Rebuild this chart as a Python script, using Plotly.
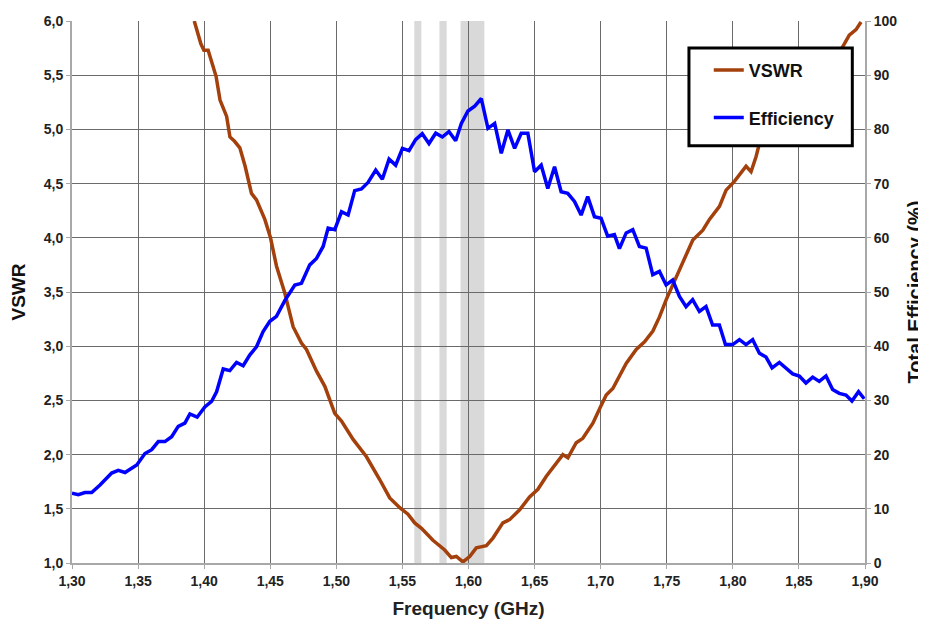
import plotly.graph_objects as go

# ---- data ----
vswr_freq = [1.3925, 1.3975, 1.3998, 1.403, 1.409, 1.412, 1.417, 1.4195, 1.423, 1.427, 1.431,
             1.4358, 1.4396, 1.4434, 1.4459, 1.4502, 1.4547, 1.461, 1.4673, 1.4736, 1.4774,
             1.485, 1.4913, 1.4988, 1.5039, 1.5127, 1.5228, 1.5328, 1.5404, 1.548, 1.5542,
             1.5593, 1.5644, 1.5731, 1.582, 1.587, 1.5908, 1.5958, 1.6009, 1.6059, 1.6135,
             1.6185, 1.626, 1.6311, 1.6387, 1.6462, 1.6525, 1.6589, 1.6664, 1.6714, 1.6752,
             1.6815, 1.6865, 1.6941, 1.6991, 1.7042, 1.7092, 1.7193, 1.7269, 1.7332, 1.7395,
             1.7445, 1.7496, 1.7597, 1.7697, 1.7773, 1.7823, 1.7899, 1.7949, 1.8012, 1.81,
             1.8138, 1.8176, 1.8201, 1.83, 1.84, 1.85, 1.86, 1.87, 1.878, 1.883, 1.8881,
             1.8932, 1.897]
vswr_vals = [6.0, 5.79, 5.73, 5.73, 5.49, 5.27, 5.12, 4.93, 4.89, 4.83, 4.66,
             4.41, 4.35, 4.23, 4.17, 4.00, 3.74, 3.49, 3.18, 3.03, 2.97,
             2.77, 2.63, 2.38, 2.31, 2.14, 1.98, 1.77, 1.60, 1.51, 1.45,
             1.37, 1.32, 1.21, 1.12, 1.05, 1.06, 1.01, 1.06, 1.14, 1.16,
             1.23, 1.37, 1.40, 1.49, 1.61, 1.68, 1.80, 1.92, 2.00, 1.97,
             2.11, 2.15, 2.29, 2.42, 2.55, 2.61, 2.84, 2.97, 3.04, 3.14,
             3.27, 3.43, 3.70, 3.98, 4.07, 4.17, 4.29, 4.44, 4.52, 4.66,
             4.61, 4.75, 4.87, 5.02, 5.17, 5.31, 5.45, 5.58, 5.68, 5.76, 5.87,
             5.92, 5.99]

eff_freq = [1.3, 1.3048, 1.3098, 1.3149, 1.3212, 1.33, 1.335, 1.3401, 1.349, 1.3552, 1.3603,
            1.3653, 1.3703, 1.3754, 1.3804, 1.3854, 1.3892, 1.3947, 1.4005, 1.4056, 1.4094,
            1.4144, 1.4194, 1.4245, 1.4295, 1.4346, 1.4396, 1.4446, 1.4497, 1.4547, 1.461,
            1.4686, 1.4736, 1.4799, 1.485, 1.49, 1.4938, 1.4988, 1.5039, 1.5089, 1.5139,
            1.519, 1.524, 1.5298, 1.5348, 1.5399, 1.5449, 1.55, 1.555, 1.56, 1.565,
            1.5701, 1.5752, 1.5802, 1.5852, 1.5903, 1.5946, 1.5996, 1.6047, 1.6097, 1.6147,
            1.6198, 1.6248, 1.6298, 1.6349, 1.6399, 1.6449, 1.65, 1.655, 1.66, 1.6651,
            1.6701, 1.6751, 1.6802, 1.6852, 1.6902, 1.6953, 1.7003, 1.7053, 1.7104, 1.7142,
            1.7193, 1.7243, 1.7293, 1.7344, 1.7394, 1.7445, 1.7495, 1.7545, 1.7596, 1.7646,
            1.7696, 1.7747, 1.7797, 1.7847, 1.7898, 1.7944, 1.7999, 1.805, 1.81, 1.815,
            1.8201, 1.8251, 1.8297, 1.8352, 1.8402, 1.8453, 1.8503, 1.8553, 1.8604, 1.8654,
            1.8705, 1.8755, 1.8805, 1.8856, 1.8901, 1.8951, 1.8994]
eff_vals = [12.9, 12.6, 13.0, 13.0, 14.4, 16.6, 17.1, 16.7, 18.1, 20.2, 20.9,
            22.4, 22.4, 23.3, 25.2, 25.8, 27.5, 26.9, 28.8, 29.8, 31.6,
            35.8, 35.5, 37.0, 36.4, 38.4, 39.9, 42.7, 44.6, 45.5, 48.4,
            51.3, 51.6, 55.0, 56.2, 58.4, 61.8, 61.5, 64.8, 64.2, 68.7,
            69.0, 70.2, 72.5, 70.8, 74.5, 73.4, 76.5, 76.1, 78.1, 79.2,
            77.4, 79.3, 78.6, 79.6, 77.9, 81.1, 83.4, 84.3, 85.7, 80.2,
            81.1, 75.6, 79.9, 76.5, 79.3, 79.3, 72.2, 73.4, 69.1, 73.1,
            68.5, 68.2, 66.7, 64.2, 67.6, 63.9, 63.6, 60.3, 60.6, 58.0,
            60.9, 61.5, 58.4, 58.1, 53.2, 53.8, 51.3, 52.2, 49.2, 47.3,
            48.6, 46.4, 47.3, 43.9, 43.9, 40.3, 40.3, 41.2, 40.3, 41.2,
            38.7, 38.0, 36.0, 37.0, 36.0, 34.9, 34.5, 33.2, 34.3, 33.5,
            34.5, 32.0, 31.3, 31.0, 29.9, 31.6, 30.3]

band_starts = [1.559, 1.578, 1.594]
band_ends = [1.5643, 1.5835, 1.612]

x_ticks = [1.30, 1.35, 1.40, 1.45, 1.50, 1.55, 1.60, 1.65, 1.70, 1.75, 1.80, 1.85, 1.90]

VSWR_COLOR = "#A3400C"
EFF_COLOR = "#0000FF"
GRID = "#6a6a6a"
AXIS = "#a8a8a8"
FONT = "Liberation Sans, Arial, sans-serif"

fig = go.Figure()
fig.add_trace(go.Scatter(x=vswr_freq, y=vswr_vals, name="<b>VSWR</b>", mode="lines",
                         line=dict(color=VSWR_COLOR, width=3.5), legendgroup="a", yaxis="y"))
fig.add_trace(go.Scatter(x=eff_freq, y=eff_vals, name="<b>Efficiency</b>", mode="lines",
                         line=dict(color=EFF_COLOR, width=3.5), legendgroup="b", yaxis="y2"))

for s, e in zip(band_starts, band_ends):
    fig.add_shape(type="rect", xref="x", yref="paper", x0=s, x1=e, y0=0, y1=1,
                  fillcolor="#d9d9d9", line=dict(width=0), layer="below")

# legend frame (decoration)
fig.add_shape(type="rect", xref="paper", yref="paper", x0=0.778, x1=0.984, y0=0.770, y1=0.950,
              fillcolor="white", line=dict(color="black", width=3), layer="above")

tickfont = dict(family=FONT, size=14, color="#222222", weight="bold")

fig.update_layout(
    width=918, height=611,
    margin=dict(l=64, r=61, t=13, b=56, autoexpand=False),
    paper_bgcolor="white", plot_bgcolor="white",
    separators=",.",
    font=dict(family=FONT, color="#111111"),
    showlegend=True,
    legend=dict(x=0.803, y=0.943, xanchor="left", yanchor="top",
                bgcolor="rgba(0,0,0,0)", borderwidth=0,
                font=dict(family=FONT, size=18, color="#111111"),
                tracegroupgap=21, itemwidth=30),
    xaxis=dict(range=[1.3, 1.9], tickvals=x_ticks, tickformat=".2f",
               showgrid=True, gridcolor=GRID, gridwidth=1,
               showline=True, linecolor=AXIS, linewidth=2,
               ticks="outside", ticklen=4, tickcolor=AXIS,
               tickfont=tickfont, zeroline=False, automargin=False,
               title=dict(text="<b>Frequency (GHz)</b>", font=dict(family=FONT, size=19, color="#222222"),
                          standoff=17)),
    yaxis=dict(range=[1, 6], dtick=0.5, tickformat=".1f",
               showgrid=True, gridcolor=GRID, gridwidth=1,
               showline=True, linecolor=AXIS, linewidth=2,
               ticks="outside", ticklen=4, tickcolor=AXIS,
               tickfont=tickfont, zeroline=False, automargin=False,
               title=dict(text="<b>VSWR</b>", font=dict(family=FONT, size=19, color="#111111"),
                          standoff=14)),
    yaxis2=dict(range=[0, 100], dtick=10, overlaying="y", side="right",
                showgrid=False, showline=True, linecolor=AXIS, linewidth=2,
                ticks="outside", ticklen=4, tickcolor=AXIS,
                tickfont=tickfont, zeroline=False, automargin=False,
                title=dict(text="<b>Total Efficiency (%)</b>", font=dict(family=FONT, size=20, color="#111111"),
                           standoff=15)),
)

fig.write_html("out.html")
